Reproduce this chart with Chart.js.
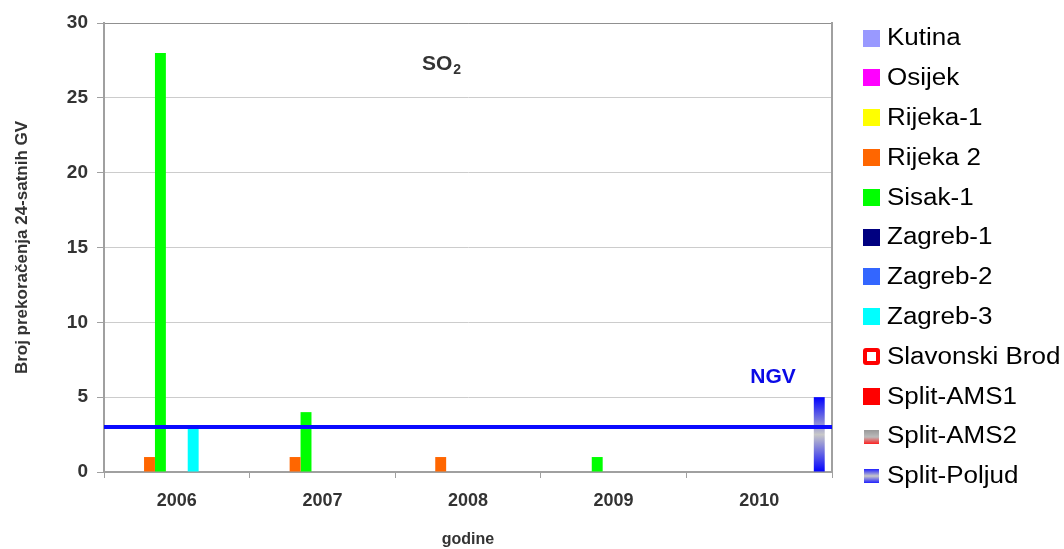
<!DOCTYPE html>
<html>
<head>
<meta charset="utf-8">
<script src="https://cdn.jsdelivr.net/npm/chart.js@4"></script>
<style>
  body { margin: 0; background: #fff; }
  #wrap { width: 1064px; height: 549px; position: relative; }
</style>
</head>
<body>
<div id="wrap"><canvas id="chart"></canvas></div>
<script>
const years = ['2006', '2007', '2008', '2009', '2010']
const stations = ['Kutina', 'Osijek', 'Rijeka-1', 'Rijeka 2', 'Sisak-1', 'Zagreb-1', 'Zagreb-2', 'Zagreb-3', 'Slavonski Brod', 'Split-AMS1', 'Split-AMS2', 'Split-Poljud']

const kutina = [0, 0, 0, 0, 0]
const osijek = [0, 0, 0, 0, 0]
const rijeka1 = [0, 0, 0, 0, 0]
const rijeka2 = [1, 1, 1, 0, 0]
const sisak1 = [28, 4, 0, 1, 0]
const zagreb1 = [0, 0, 0, 0, 0]
const zagreb2 = [0, 0, 0, 0, 0]
const zagreb3 = [3, 0, 0, 0, 0]
const slavonskiBrod = [0, 0, 0, 0, 0]
const splitAms1 = [0, 0, 0, 0, 0]
const splitAms2 = [0, 0, 0, 0, 0]
const splitPoljud = [0, 0, 0, 0, 5]

const ngv = 3
const yTicksMax = 30
const yTicksStep = 5

const fontFamily = "'Liberation Sans', Arial, sans-serif"
const textGrey = '#333333'

// little canvases used as legend markers
function legendBox(draw) {
    const c = document.createElement('canvas')
    c.width = 17
    c.height = 17
    draw(c.getContext('2d'))
    return c
}
function solidBox(color) {
    return legendBox(g => { g.fillStyle = color; g.fillRect(0, 0, 17, 17) })
}
function gradientBox(stops) {
    return legendBox(g => {
        const gr = g.createLinearGradient(0, 2, 0, 16)
        stops.forEach((s, i) => gr.addColorStop(i / (stops.length - 1), s))
        g.fillStyle = gr
        g.fillRect(1, 2, 15, 14)
    })
}

// vertical gradient over the height of one bar
function barGradient(colors, fallback) {
    return ctx => {
        const chart = ctx.chart
        const yScale = chart.scales.y
        if (!chart.chartArea || !yScale) return fallback
        const top = yScale.getPixelForValue(ctx.raw || 0)
        const bottom = yScale.getPixelForValue(0)
        if (!isFinite(top) || top === bottom) return fallback
        const gr = chart.ctx.createLinearGradient(0, top, 0, bottom)
        colors.forEach((c, i) => gr.addColorStop(i / (colors.length - 1), c))
        return gr
    }
}

const datasetsInfo = [
    {data: kutina, color: '#9999ff', marker: solidBox('#9999ff')},
    {data: osijek, color: '#ff00ff', marker: solidBox('#ff00ff')},
    {data: rijeka1, color: '#ffff00', marker: solidBox('#ffff00')},
    {data: rijeka2, color: '#ff6600', marker: solidBox('#ff6600')},
    {data: sisak1, color: '#00ff00', marker: solidBox('#00ff00')},
    {data: zagreb1, color: '#000080', marker: solidBox('#000080')},
    {data: zagreb2, color: '#3366ff', marker: solidBox('#3366ff')},
    {data: zagreb3, color: '#00ffff', marker: solidBox('#00ffff')},
    {data: slavonskiBrod, color: '#ffffff', border: '#ff0000', marker: legendBox(g => {
        g.fillStyle = '#ff0000'
        g.beginPath(); g.roundRect(0, 0, 17, 17, 3); g.fill()
        g.fillStyle = '#ffffff'
        g.fillRect(4, 4, 9, 9)
    })},
    {data: splitAms1, color: '#ff0000', marker: solidBox('#ff0000')},
    {data: splitAms2, color: barGradient(['#999999', '#ff0000'], '#999999'), marker: gradientBox(['#999999', '#bbbbbb', '#ff2020'])},
    {data: splitPoljud, color: barGradient(['#0000ff', '#c8c8c8', '#0000ff'], '#3333ff'), marker: gradientBox(['#2020ff', '#c8c8c8', '#2020ff'])}
]

const annotations = {
    id: 'annotations',
    afterDatasetsDraw(chart) {
        const {ctx, chartArea, scales} = chart
        const y = scales.y.getPixelForValue(ngv)
        ctx.save()
        ctx.strokeStyle = '#0a0aff'
        ctx.lineWidth = 4
        ctx.beginPath()
        ctx.moveTo(chartArea.left, y)
        ctx.lineTo(chartArea.right, y)
        ctx.stroke()

        ctx.fillStyle = '#0a0ae6'
        ctx.font = 'bold 21px ' + fontFamily
        ctx.textAlign = 'center'
        ctx.textBaseline = 'alphabetic'
        ctx.fillText('NGV', chartArea.right - 59, y - 44)

        ctx.fillStyle = textGrey
        ctx.textAlign = 'left'
        ctx.font = 'bold 21px ' + fontFamily
        const soX = chartArea.left + 318
        ctx.fillText('SO', soX, chartArea.top + 47)
        const w = ctx.measureText('SO').width
        ctx.font = 'bold 14px ' + fontFamily
        ctx.fillText('2', soX + w + 1, chartArea.top + 51)
        ctx.restore()
    }
}

// legend drawn in the space kept free on the right
const sideLegend = {
    id: 'sideLegend',
    afterDraw(chart) {
        const {ctx, chartArea} = chart
        const x = chartArea.right + 31
        ctx.save()
        ctx.font = '23px ' + fontFamily
        ctx.fillStyle = '#000000'
        ctx.textAlign = 'left'
        ctx.textBaseline = 'middle'
        chart.data.datasets.forEach((ds, i) => {
            const y = 38 + i * 39.8
            ctx.drawImage(datasetsInfo[i].marker, x, Math.round(y - 8.5))
            // the original text is a little wider than Arial
            ctx.save()
            ctx.translate(x + 24, y + 1)
            ctx.scale(1.13, 1)
            ctx.fillText(ds.label, 0, 0)
            ctx.restore()
        })
        ctx.restore()
    }
}

new Chart(document.getElementById('chart'), {
    type: 'bar',
    data: {
        labels: years,
        datasets: datasetsInfo.map((d, i) => ({
            label: stations[i],
            data: d.data,
            backgroundColor: d.color,
            borderColor: d.border || 'transparent',
            borderWidth: d.border ? 2 : 0,
            categoryPercentage: 0.9,
            barPercentage: 1.0
        }))
    },
    options: {
        responsive: true,
        maintainAspectRatio: false,
        animation: false,
        events: [],
        layout: {padding: {top: 9, left: 0, right: 232, bottom: 0}},
        plugins: {
            tooltip: {enabled: false},
            legend: {display: false}
        },
        scales: {
            x: {
                grid: {display: true, drawOnChartArea: false, offset: true, tickLength: 6, color: '#a0a0a0'},
                border: {display: true, color: '#a0a0a0', width: 2},
                ticks: {color: textGrey, font: {family: fontFamily, size: 18, weight: 'bold'}, padding: 12},
                title: {display: true, text: 'godine', color: textGrey, font: {family: fontFamily, size: 16, weight: 'bold'}, padding: {top: 21, bottom: 0}},
                afterFit(scale) { scale.height = 77 }
            },
            x2: {
                type: 'category',
                labels: years,
                position: 'top',
                grid: {display: false},
                border: {display: true, color: '#909090', width: 1},
                ticks: {display: false},
                afterFit(scale) { scale.height = 14 }
            },
            y: {
                min: 0,
                max: yTicksMax,
                ticks: {stepSize: yTicksStep, color: textGrey, font: {family: fontFamily, size: 19, weight: 'bold'}, padding: 9},
                grid: {
                    color: c => (c.tick && c.tick.value === yTicksMax) ? '#909090' : '#cccccc',
                    tickColor: '#a0a0a0',
                    tickLength: 7
                },
                border: {display: true, color: '#a0a0a0', width: 2},
                title: {display: true, text: 'Broj prekoračenja 24-satnih GV', color: textGrey, font: {family: fontFamily, size: 17, weight: 'bold'}, padding: {top: 12, bottom: 0}},
                afterFit(scale) { scale.width = 104 }
            },
            y2: {
                position: 'right',
                min: 0,
                max: yTicksMax,
                grid: {display: false},
                border: {display: true, color: '#a0a0a0', width: 2},
                ticks: {display: false},
                afterFit(scale) { scale.width = 0 }
            }
        }
    },
    plugins: [annotations, sideLegend]
})
</script>
</body>
</html>
